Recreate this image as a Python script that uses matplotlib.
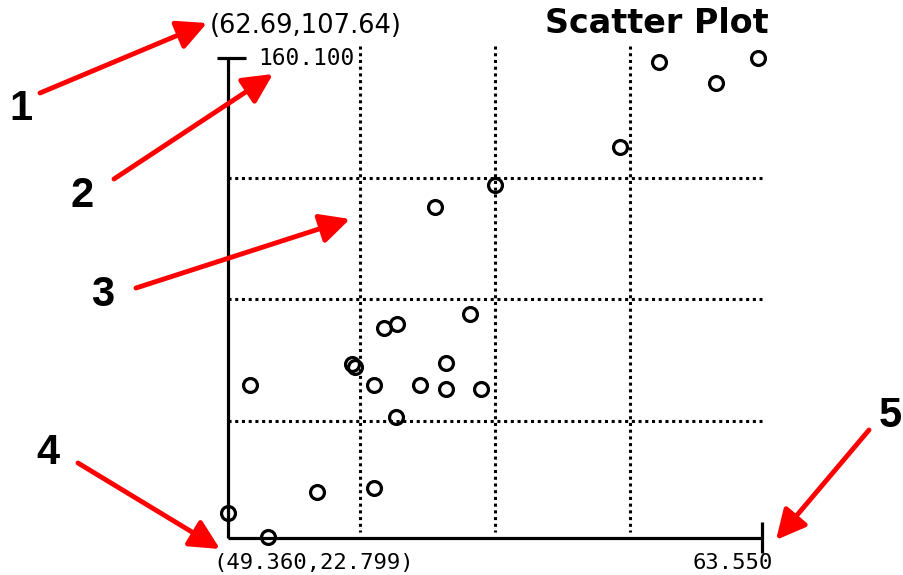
import matplotlib
matplotlib.use("Agg")
import matplotlib.pyplot as plt

# ---- data ----
x_min, x_max = 49.36, 63.55
y_min, y_max = 22.799, 160.100
xs = [60.81, 62.33, 63.44, 59.78, 56.46, 54.86, 55.79, 53.51, 53.85, 52.66, 52.74,
      49.95, 53.24, 54.46, 55.15, 55.15, 56.08, 53.82, 51.73, 53.24, 49.36, 50.42]
ys = [158.81, 152.81, 159.96, 134.50, 123.63, 117.34, 86.73, 82.73, 83.87, 72.43, 71.57,
      66.42, 66.42, 66.42, 72.72, 65.28, 65.28, 57.27, 35.82, 36.96, 29.81, 22.94]
grid_x = [52.87, 56.46, 60.04]
grid_y = [56.12, 91.02, 125.63]
cursor_label = "(62.69,107.64)"
ymax_label = "160.100"
origin_label = "(49.360,22.799)"
xmax_label = "63.550"
title = "Scatter Plot"
callout_numbers = ["1", "2", "3", "4", "5"]

W, H = 904, 575
fig = plt.figure(figsize=(W / 100, H / 100), dpi=100)
fig.patch.set_facecolor("white")

def fx(px):
    return px / W

def fy(py):
    return (H - py) / H

left, right, top, bottom = 228, 762, 57.5, 537.5
ax = fig.add_axes([fx(left), fy(bottom), fx(right) - fx(left), fy(top) - fy(bottom)])
ax.set_xlim(x_min, x_max)
ax.set_ylim(y_min, y_max)
ax.set_axis_off()

kx = (x_max - x_min) / (right - left)
ky = (y_max - y_min) / (bottom - top)

# dotted grid
dot = dict(color="black", lw=2.2, linestyle=(0, (1.0, 1.2)), dash_capstyle="butt",
           clip_on=False, zorder=1)
for gx in grid_x:
    ax.plot([gx, gx], [y_max + 11.5 * ky, y_min + 5.5 * ky], **dot)
for gy in grid_y:
    ax.plot([x_min, x_max], [gy, gy], **dot)

# axes lines and end ticks
solid = dict(color="black", lw=2.3, solid_capstyle="butt", clip_on=False, zorder=2)
ax.plot([x_min, x_min], [y_min, y_max], **solid)
ax.plot([x_min, x_max], [y_min, y_min], **solid)
ax.plot([x_min - 11 * kx, x_min + 18 * kx], [y_max, y_max], **solid)
ax.plot([x_max, x_max], [y_min + 15.5 * ky, y_min - 15.5 * ky], **solid)

# points
ax.plot(xs, ys, linestyle="none", marker="o", ms=10, mew=2.3, mfc="none", mec="black",
        clip_on=False, zorder=3)

# texts
fig.text(fx(210), fy(33), cursor_label, family="DejaVu Sans", fontsize=18.5,
         ha="left", va="baseline")
fig.text(fx(258), fy(65), ymax_label, family="DejaVu Sans Mono", fontsize=16.5,
         ha="left", va="baseline")
fig.text(fx(545), fy(33), title, family="DejaVu Sans", fontweight="bold", fontsize=24,
         ha="left", va="baseline")
fig.text(fx(213), fy(569), origin_label, family="DejaVu Sans Mono", fontsize=16,
         ha="left", va="baseline")
fig.text(fx(693), fy(569), xmax_label, family="DejaVu Sans Mono", fontsize=16,
         ha="left", va="baseline")

# callouts
num_pos = [(21, 120), (82, 207), (103, 306), (48, 464), (890, 427)]
arrows = [((40, 93), (207, 23)), ((114, 179), (273, 74)), ((136, 288), (350, 219)),
          ((78, 463), (220, 549)), ((869, 430), (776, 540))]
for label, (nx, ny) in zip(callout_numbers, num_pos):
    fig.text(fx(nx), fy(ny), label, family="Liberation Sans", fontweight="bold",
             fontsize=30, ha="center", va="baseline")
for (tx, ty), (hx, hy) in arrows:
    fig.patches.append(matplotlib.patches.FancyArrowPatch(
        (fx(tx), fy(ty)), (fx(hx), fy(hy)), transform=fig.transFigure,
        arrowstyle="-|>,head_length=0.9,head_width=0.45", mutation_scale=20,
        color="#ff0000", lw=3.5, shrinkA=0, shrinkB=0, zorder=5))

fig.savefig("out.png", dpi=100)
